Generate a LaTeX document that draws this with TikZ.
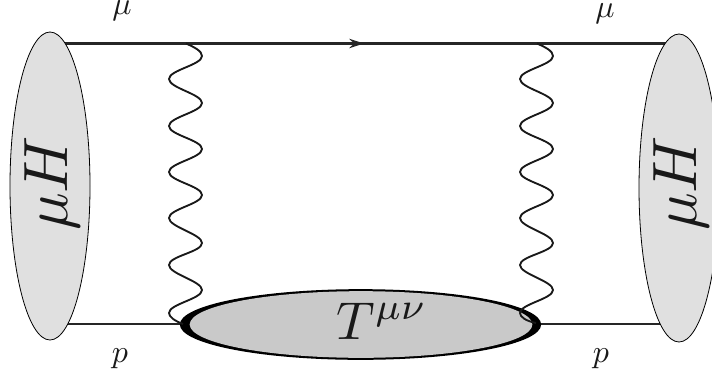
\documentclass[tikz,border=0pt]{standalone}
\usetikzlibrary{shapes.geometric,arrows.meta,decorations.markings}
\tikzset{
  x=0.75pt,y=-0.75pt,
  blob/.style={ellipse,draw=black,line width=0.6pt,fill=black!12,inner sep=0pt,minimum width=60pt,minimum height=231pt},
  fermion/.style={draw=black!85,line width=1.7pt},
  photon/.style={draw=black!90,line width=1.4pt,line join=round},
  biglabel/.style={inner sep=0pt,scale=4.7,text=black!90},
  tlabel/.style={inner sep=0pt,scale=4,text=black!90},
  smalllabel/.style={inner sep=0pt,scale=2.4,text=black!90},
}
\newcommand{\wigglepath}[4]{%
  \draw[photon] (#1) .. controls (#4-8,47) and (#4,51) .. (#4,56)
  \foreach \ya/\yb/\xa/\xb in {56/79/#4/#3,79/103/#3/#4,103/126/#4/#3,126/149/#3/#4,149/172/#4/#3,172/195/#3/#4,195/218/#4/#3,218/243/#3/#4,243/265/#4/#3,265/290/#3/#4,290/313/#4/#3}{
    .. controls (\xa,\ya+9) and (\xb,\yb-9) .. (\xb,\yb)
  } .. controls (#3,317) and (#3+6,321) .. (#2);
}
\begin{document}
\begin{tikzpicture}
\useasboundingbox (0,0) rectangle (712,378);
\clip (0,0) rectangle (712,378);
\coordinate (muin) at (60,43.5);
\coordinate (muout) at (668,43.5);
\coordinate (pin) at (60,324);
\coordinate (pout) at (668,324);
\coordinate (tleft) at (183,324);
\coordinate (tright) at (541,324);
\coordinate (wa) at (186,43.5);
\coordinate (wb) at (183,324);
\coordinate (wc) at (537,43.5);
\coordinate (wd) at (536,323);
\draw[fermion,postaction={decorate},decoration={markings,mark=at position 0.5 with {\arrow{Stealth[length=11pt,width=7pt]}}}] (muin) -- (muout);
\draw[fermion] (pin) -- (tleft);
\draw[fermion] (tright) -- (pout);
\node[blob] (L) at (50,186) {};
\node[blob] (R) at (679,188) {};
\node[biglabel,rotate=90] (Llabel) at (52.5,183.5) {$\mu H$};
\node[biglabel,rotate=90] (Rlabel) at (681,183.5) {$\mu H$};
\node[ellipse,fill=black,inner sep=0pt,minimum width=271pt,minimum height=53pt] (Tout) at (360.5,324.5) {};
\node[ellipse,fill=black!21,inner sep=0pt,minimum width=257pt,minimum height=50pt] (T) at (361,324.5) {};
\node[tlabel] (Tlabel) at (382,321) {$T^{\mu\nu}$};
\wigglepath{wa}{wb}{169}{202}
\wigglepath{wc}{wd}{520}{553}
\node[smalllabel] (m1) at (122,11) {$\mu$};
\node[smalllabel] (m2) at (605,14) {$\mu$};
\node[smalllabel] (p1) at (120,359) {$p$};
\node[smalllabel] (p2) at (601,359) {$p$};
\end{tikzpicture}
\end{document}
